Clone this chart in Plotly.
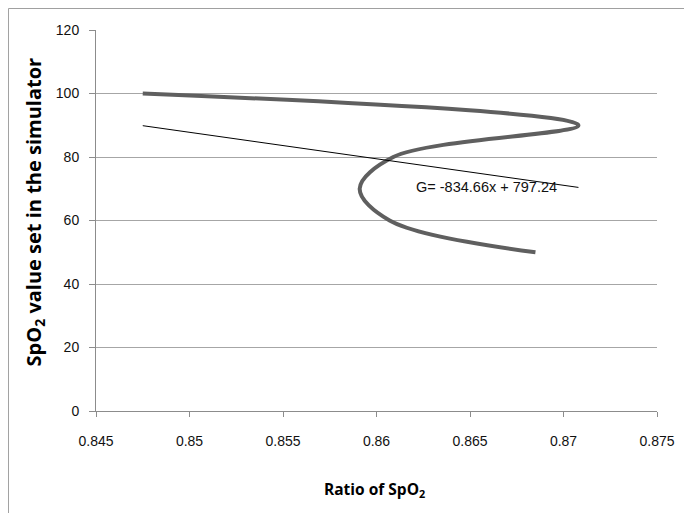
import plotly.graph_objects as go

# Data
ratio = [0.8475, 0.8708, 0.8609, 0.8591, 0.8607, 0.8685]
spo2_set = [100, 90, 80, 70, 60, 50]

# Linear trendline as printed on the chart
slope = -834.66
intercept = 797.24
trend_x = [min(ratio), max(ratio)]
trend_y = [slope * v + intercept for v in trend_x]
eq_label = "G= -834.66x + 797.24"

x_ticks = [0.845, 0.85, 0.855, 0.86, 0.865, 0.87, 0.875]
x_tick_text = ["0.845", "0.85", "0.855", "0.86", "0.865", "0.87", "0.875"]
y_ticks = [0, 20, 40, 60, 80, 100, 120]

x_title = "<b>Ratio of SpO<sub>2</sub></b>"
y_title = "<b>SpO<sub>2</sub> value set in the simulator</b>"

tick_font = dict(family="Liberation Sans, Arial", size=14, color="#111111")

fig = go.Figure()
fig.add_trace(go.Scatter(
    x=ratio, y=spo2_set, mode="lines",
    line=dict(color="#5f5f5f", width=4, shape="spline", smoothing=1.0),
    showlegend=False, hoverinfo="skip",
))
fig.add_trace(go.Scatter(
    x=trend_x, y=trend_y, mode="lines",
    line=dict(color="#000000", width=1),
    showlegend=False, hoverinfo="skip",
))

fig.add_annotation(
    x=0.8620, y=70.4, xref="x", yref="y", text=eq_label, showarrow=False,
    xanchor="left", yanchor="middle",
    font=dict(family="Liberation Sans, Arial", size=14.5, color="#111111"),
)

# axis titles
fig.add_annotation(
    x=-0.11, y=0.522, xref="paper", yref="paper", text=y_title, showarrow=False,
    textangle=-90, xanchor="center", yanchor="middle",
    font=dict(family="Open Sans, Arial", size=20, color="#000000"),
)
fig.add_annotation(
    x=0.497, y=-0.207, xref="paper", yref="paper", text=x_title, showarrow=False,
    xanchor="center", yanchor="middle",
    font=dict(family="Open Sans, Arial", size=15.5, color="#000000"),
)

# chart area border
fig.add_shape(type="rect", xref="paper", yref="paper",
              x0=-0.156, x1=1.08, y0=-0.3, y1=1.0564,
              line=dict(color="#a0a0a0", width=1), fillcolor="rgba(0,0,0,0)", layer="below")

fig.update_layout(
    width=684, height=505,
    margin=dict(l=88, r=35, t=22, b=102, autoexpand=False),
    plot_bgcolor="white", paper_bgcolor="white",
    xaxis=dict(
        range=[0.845, 0.875], tickvals=x_ticks, ticktext=x_tick_text,
        showgrid=False, zeroline=False, showline=True, linecolor="#8c8c8c", linewidth=1,
        ticks="outside", ticklen=5, tickcolor="#8c8c8c", tickfont=tick_font,
        ticklabelstandoff=12, automargin=False,
    ),
    yaxis=dict(
        range=[0, 120], tickvals=y_ticks,
        showgrid=True, gridcolor="#a6a6a6", gridwidth=1, zeroline=False,
        showline=True, linecolor="#8c8c8c", linewidth=1,
        ticks="outside", ticklen=6, tickcolor="#8c8c8c", tickfont=tick_font,
        ticklabelstandoff=7, automargin=False,
    ),
)

fig.write_html("out.html")
